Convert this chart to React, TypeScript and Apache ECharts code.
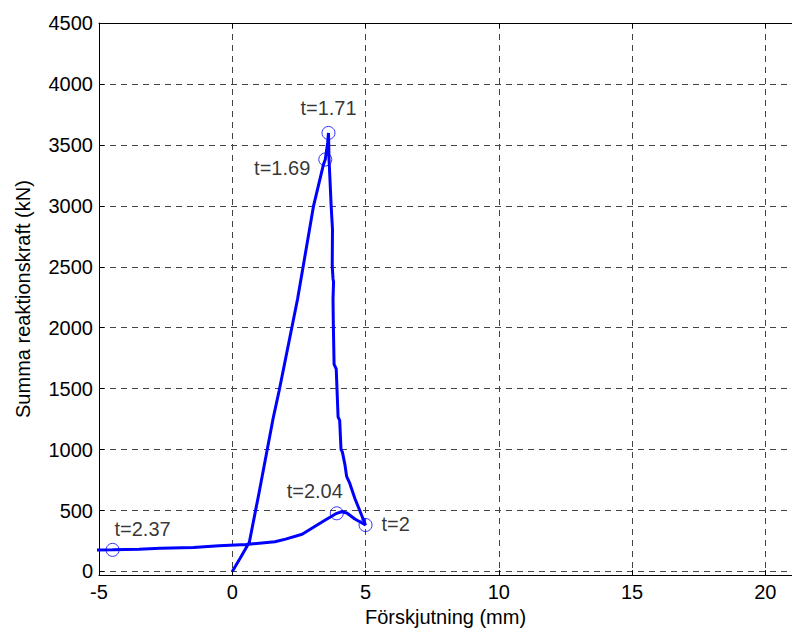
import React, { useEffect, useRef } from "react";
import * as echarts from "echarts";

// Curve path (displacement in mm, force in kN), in time order
const pathX = [
  0, 0.3, 0.64, 1.0, 1.53, 1.76, 2.45, 3.05, 3.42, 3.49, 3.58, 3.61,
  3.62, 3.63, 3.66, 3.71, 3.76, 3.75, 3.78, 3.8, 3.78, 3.79, 3.82, 3.9,
  3.97, 4.03, 4.08, 4.13, 4.23, 4.29, 4.41, 4.6, 4.85, 5.0,
  4.6, 4.3, 4.1, 3.92, 3.49, 2.62, 2.0, 1.6, 0.52, -0.5, -1.46, -2.7, -3.5, -4.49, -5.3,
];
const pathY = [
  0, 110, 240, 640, 1253, 1485, 2235, 3000, 3338, 3380, 3520, 3598,
  3500, 3380, 3243, 3000, 2807, 2507, 2400, 2376, 2235, 2044, 1700, 1662,
  1267, 1240, 1000, 981, 872, 780, 722, 599, 463, 381,
  430, 480, 490, 477, 422, 305, 265, 243, 222, 210, 196, 190, 182, 177, 176,
];

// Marked instants
const markerLabels = ["t=1.71", "t=1.69", "t=2.04", "t=2", "t=2.37"];
const markerX = [3.61, 3.49, 3.92, 5.0, -4.49];
const markerY = [3598, 3380, 477, 381, 177];

const xTicks = [-5, 0, 5, 10, 15, 20];
const yTicks = [0, 500, 1000, 1500, 2000, 2500, 3000, 3500, 4000, 4500];

const FONT = "'Liberation Sans', Arial, sans-serif";
const FS = 20;

export default function App() {
  const ref = useRef<HTMLDivElement>(null);

  useEffect(() => {
    document.body.style.margin = "0";
    const chart = echarts.init(ref.current!, null, { renderer: "svg" });

    const labelCfg: any[] = [
      { position: "top", distance: 8 },
      { position: "left", distance: 8, offset: [0, 8] },
      { position: "top", distance: 5, offset: [-22, 0] },
      { position: "right", distance: 9, offset: [0, -1] },
      { position: "top", distance: 4, offset: [30, 0] },
    ];

    const gridLine = { show: true, lineStyle: { color: "#444", type: [6, 5], width: 1 } };
    const plain = (v: number) => String(v);

    chart.setOption({
      animation: false,
      backgroundColor: "#fff",
      textStyle: { fontFamily: FONT },
      grid: { left: 99, top: 23, bottom: 55, right: -8, containLabel: false },
      xAxis: [
        {
          type: "value",
          min: -5,
          max: 21,
          interval: 5,
          position: "bottom",
          name: "Förskjutning (mm)",
          nameLocation: "middle",
          nameGap: 28,
          nameTextStyle: { fontSize: FS, color: "#000", fontFamily: FONT },
          axisLine: { show: true, onZero: false, lineStyle: { color: "#000", width: 1 } },
          axisTick: { show: true, inside: true, length: 5, customValues: xTicks, lineStyle: { color: "#000" } },
          axisLabel: { customValues: xTicks, formatter: plain, fontSize: FS, color: "#000", margin: 7, fontFamily: FONT },
          splitLine: gridLine,
        },
        {
          type: "value",
          min: -5,
          max: 21,
          interval: 5,
          position: "top",
          axisLine: { show: true, onZero: false, lineStyle: { color: "#000", width: 1 } },
          axisTick: { show: true, inside: true, length: 5, customValues: xTicks, lineStyle: { color: "#000" } },
          axisLabel: { show: false },
          splitLine: { show: false },
        },
      ],
      yAxis: [
        {
          type: "value",
          min: -30,
          max: 4500,
          position: "left",
          name: "Summa reaktionskraft (kN)",
          nameLocation: "middle",
          nameGap: 66,
          nameTextStyle: { fontSize: FS, color: "#000", fontFamily: FONT },
          axisLine: { show: true, onZero: false, lineStyle: { color: "#000", width: 1 } },
          axisTick: { show: true, inside: true, length: 5, customValues: yTicks, lineStyle: { color: "#000" } },
          axisLabel: { customValues: yTicks, formatter: plain, fontSize: FS, color: "#000", margin: 6, fontFamily: FONT },
          splitLine: gridLine,
        },
      ],
      series: [
        {
          type: "line",
          data: pathX.map((x, i) => [x, pathY[i]]),
          showSymbol: false,
          symbol: "none",
          clip: true,
          lineStyle: { color: "#0000ff", width: 3 },
          z: 3,
        },
        {
          type: "scatter",
          symbol: "circle",
          symbolSize: 13,
          clip: false,
          itemStyle: { color: "rgba(0,0,0,0)", borderColor: "#0000ff", borderWidth: 1 },
          label: { show: true, fontSize: FS, color: "#000", fontFamily: FONT },
          data: markerX.map((x, i) => ({
            value: [x, markerY[i]],
            label: { show: true, color: "#000", fontSize: FS, formatter: markerLabels[i], ...labelCfg[i] },
          })),
          z: 4,
        },
      ],
    });

    return () => chart.dispose();
  }, []);

  return <div ref={ref} style={{ width: 792, height: 632 }} />;
}
